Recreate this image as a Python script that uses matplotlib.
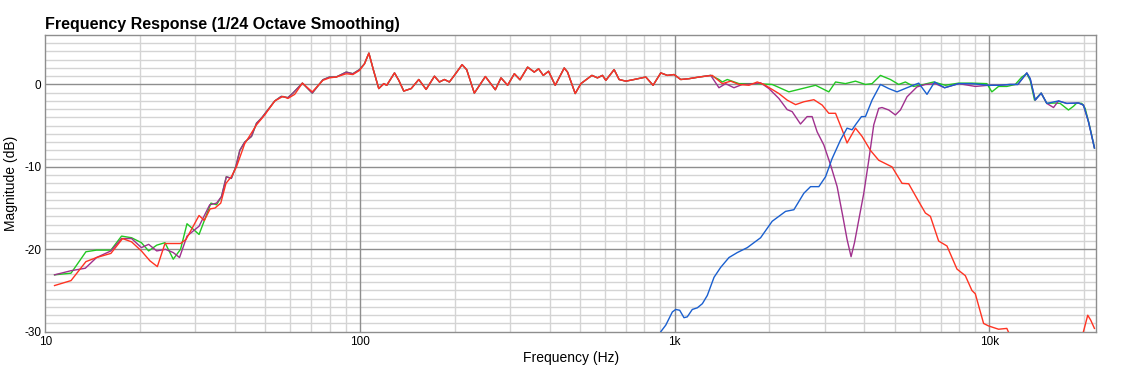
import matplotlib
matplotlib.use("Agg")
import matplotlib.pyplot as plt
from matplotlib.ticker import FixedLocator, NullFormatter, FixedFormatter

plt.rcParams['font.family'] = ['Liberation Sans', 'DejaVu Sans']

# ---------------- data (Hz, dB) ----------------
# low-frequency part of the green curve
green_lf_f = [10.7, 12.07, 13.46, 14.55, 16.16, 17.47, 18.8, 20.2, 21.3, 22.6, 24.0, 25.5,
              26.9, 28.2, 30.8, 33.6, 35.0, 36.3, 37.6, 39.0, 40.3, 41.5, 43.0, 45.2, 46.9,
              48.6, 53.6, 56.2, 59.0, 61.2, 65.6, 70.5, 76.2, 80.0, 84.0, 90.4, 94.9, 99.6]
green_lf_db = [-23.1, -22.9, -20.3, -20.1, -20.1, -18.4, -18.6, -19.2, -20.2, -19.5, -19.2, -21.2,
               -20.0, -16.9, -18.2, -14.4, -14.6, -13.6, -11.2, -11.4, -10.0, -8.0, -7.0, -6.3, -4.7,
               -4.1, -2.0, -1.45, -1.6, -1.05, 0.16, -1.05, 0.57, 0.9, 0.9, 1.5, 1.3, 1.8]

# low-frequency part of the purple curve (joins green above ~36 Hz)
purple_lf_f = [10.7, 12.07, 13.4, 14.55, 16.16, 17.47, 18.8, 20.2, 21.3, 22.6, 24.1, 25.5,
               26.7, 28.2, 30.8, 33.3, 35.0]
purple_lf_db = [-23.1, -22.6, -22.3, -21.0, -20.2, -18.7, -18.7, -19.8, -19.4, -20.2, -20.0, -20.4,
                -21.0, -18.4, -17.2, -14.6, -14.4]

# low-frequency part of the red curve
red_lf_f = [10.7, 12.07, 13.46, 14.55, 16.16, 17.6, 18.8, 20.2, 21.5, 22.7, 24.0, 26.9, 28.0,
            30.8, 32.0, 33.4, 34.6, 36.1, 37.5, 39.0, 40.5, 43.0, 46.9, 49.8, 53.6, 56.9, 59.0,
            62.0, 65.6, 70.5, 76.2, 80.0, 84.0, 90.4, 94.9, 99.6]
red_lf_db = [-24.4, -23.8, -21.5, -21.0, -20.5, -18.7, -19.1, -20.2, -21.4, -22.1, -19.3, -19.3, -18.8,
             -15.9, -16.5, -15.1, -15.0, -14.4, -12.0, -11.2, -10.0, -7.2, -4.9, -3.7, -2.0, -1.45, -1.7,
             -1.2, 0.16, -0.9, 0.5, 0.8, 0.9, 1.3, 1.2, 1.7]

# mid band shared by green, purple and red
mid_f = [103.3, 106.7, 110.4, 114.7, 119.0, 121.6, 128.7, 132.8, 137.7, 145.4, 153.7, 162.2,
         172.4, 178.8, 185.4, 192.3, 199.4, 211.0, 218.2, 230.8, 250.2, 269.1, 280.5, 294.4,
         309.3, 322.4, 340.8, 357.8, 369.3, 382.2, 397.2, 417.1, 445.5, 456.4, 482.8, 503.3,
         545.4, 568.1, 589.3, 604.1, 641.8, 665.7, 699.1, 742.8, 809.1, 853.5, 902.8, 947.4,
         994.9, 1044.7, 1110, 1194, 1301]
mid_db = [2.5, 3.8, 1.7, -0.5, 0.1, -0.1, 1.4, 0.5, -0.8, -0.5, 0.6, -0.6,
          1.0, 0.3, 0.6, 0.3, 1.1, 2.4, 1.8, -1.05, 0.96, -0.64, 0.8, -0.1,
          1.3, 0.57, 2.1, 1.5, 1.9, 1.1, 1.6, -0.1, 2.0, 1.5, -1.1, 0.1,
          1.1, 0.8, 1.1, 0.5, 1.8, 0.6, 0.4, 0.6, 0.9, -0.1, 1.4, 1.1,
          1.2, 0.6, 0.7, 0.9, 1.1]

# high-frequency parts
green_hf_f = [1382, 1416, 1469, 1600, 1807, 2040, 2305, 2540, 2802, 3087, 3243, 3487, 3752,
              4036, 4236, 4504, 4845, 5148, 5406, 5743, 6180, 6647, 7240, 7980, 8796, 9813,
              10176, 10688, 11355, 12077, 12671, 13142, 13472, 13904, 14601, 15213, 16175,
              16776, 17824, 18487, 18939, 19647, 20140, 20889, 21554]
green_hf_db = [0.6, 0.3, 0.6, 0.1, 0.1, 0.0, -0.9, -0.5, -0.1, -0.9, 0.3, 0.1, 0.4,
               0.0, 0.1, 1.1, 0.6, 0.0, 0.3, -0.24, 0.0, 0.3, -0.1, 0.16, 0.16, 0.1,
               -0.9, -0.24, -0.24, 0.0, 0.9, 1.3, 0.5, -1.9, -1.05, -2.3, -2.25,
               -2.3, -3.1, -2.65, -2.25, -2.3, -2.9, -5.3, -7.7]

purple_hf_f = [1382, 1451, 1542, 1639, 1807, 1874, 1992, 2142, 2276, 2361, 2509, 2634, 2732,
               2834, 2977, 3126, 3281, 3420, 3528, 3633, 3725, 3864, 3987, 4135, 4289, 4448,
               4556, 4786, 5025, 5212, 5470, 5884, 6257, 6730, 7202, 7980, 9016, 9934, 10688,
               11641, 12306, 13142, 13472, 13975, 14601, 15213, 15977, 16569, 17603, 19175,
               19892, 20627, 21554]
purple_hf_db = [-0.4, 0.1, -0.4, 0.0, 0.1, 0.2, -0.5, -1.7, -3.05, -3.3, -4.8, -3.9, -3.9,
                -5.75, -7.35, -9.75, -12.4, -16.0, -18.8, -20.9, -19.2, -16.0, -13.2, -9.2, -4.9, -2.9,
                -2.8, -3.1, -3.7, -3.1, -1.5, -0.3, 0.0, 0.1, -0.4, 0.1, -0.24, -0.1, -0.1,
                0.0, 0.0, 1.4, 0.7, -1.9, -1.05, -2.3, -2.8, -2.0, -2.3, -2.25,
                -2.5, -4.5, -7.7]

red_hf_f = [1316, 1416, 1506, 1600, 1721, 1829, 1920, 2017, 2142, 2276, 2421, 2572, 2767, 2940,
            3087, 3243, 3403, 3528, 3752, 3937, 4186, 4448, 4902, 5275, 5537, 5959, 6257, 6490,
            6895, 7327, 7883, 8380, 8796, 9016, 9579, 9934, 10688, 11355, 11665, 19700, 20523,
            20976, 21554]
red_hf_db = [1.1, 0.1, 0.4, 0.0, -0.1, 0.3, 0.0, -0.5, -1.1, -1.9, -2.45, -2.1, -1.85, -2.5,
             -3.5, -3.5, -5.5, -7.1, -5.3, -6.3, -8.0, -9.2, -10.0, -12.0, -12.05, -14.2, -15.6, -16.0,
             -19.0, -19.6, -22.4, -23.2, -25.0, -25.4, -29.0, -29.3, -29.7, -29.6, -30.6, -30.6, -28.0,
             -28.6, -29.6]

blue_f = [880, 902.8, 936.5, 982.7, 1007, 1037, 1070, 1096, 1137, 1180, 1224, 1269, 1333, 1399,
          1487, 1580, 1700, 1874, 2040, 2250, 2391, 2572, 2701, 2870, 3014, 3162, 3362, 3528,
          3660, 3752, 3920, 4036, 4236, 4504, 4786, 5085, 5470, 5959, 6331, 6695, 7202, 7980,
          8796, 9934, 10688, 11641, 12306, 13142, 13472, 13975, 14601, 15213, 16569, 17603,
          19175, 19892, 20627, 21554]
blue_db = [-31.0, -30.0, -29.2, -27.6, -27.3, -27.4, -28.3, -28.2, -27.3, -27.1, -26.6, -25.6, -23.4, -22.2,
           -21.0, -20.4, -19.8, -18.6, -16.6, -15.4, -15.2, -13.2, -12.4, -12.4, -11.2, -9.0, -6.75, -5.3,
           -5.5, -4.9, -3.9, -3.9, -1.9, 0.0, -0.5, -0.9, -0.4, 0.16, -1.2, 0.3, -0.4, 0.1,
           0.1, -0.1, -0.1, 0.0, 0.0, 1.4, 0.7, -1.9, -1.05, -2.3, -2.0, -2.3,
           -2.25, -2.5, -4.5, -7.7]

x_ticks = [10, 100, 1000, 10000]
x_tick_labels = ["10", "100", "1k", "10k"]
y_ticks = [0, -10, -20, -30]
y_tick_labels = ["0", "-10", "-20", "-30"]

# ---------------- assemble curves ----------------
green_f = green_lf_f + mid_f + green_hf_f
green_db = green_lf_db + mid_db + green_hf_db

purple_f = purple_lf_f + [f for f in green_lf_f if f > 36] + mid_f + purple_hf_f
purple_db = purple_lf_db + [d for f, d in zip(green_lf_f, green_lf_db) if f > 36] + mid_db + purple_hf_db

red_f = red_lf_f + mid_f[:-1] + red_hf_f
red_db = red_lf_db + mid_db[:-1] + red_hf_db

# ---------------- figure ----------------
W, H = 1129, 371
fig = plt.figure(figsize=(W / 100, H / 100), dpi=100)
ax = fig.add_axes([45.3 / W, 1 - 331.7 / H, (1096.3 - 45.3) / W, (331.7 - 35) / H])

ax.set_xscale('log')
ax.set_xlim(10, 21850)
ax.set_ylim(-30, 6)

# grid
minor_x = [m * 10 ** e for e in range(1, 5) for m in range(2, 10)]
for xv in minor_x:
    ax.axvline(xv, color='#d4d4d4', lw=1.0, zorder=0)
for yv in range(-29, 6):
    if yv % 10 != 0:
        ax.axhline(yv, color='#d4d4d4', lw=1.0, zorder=0)
for xv in x_ticks[1:]:
    ax.axvline(xv, color='#8e8e8e', lw=1.0, zorder=0.5)
for yv in y_ticks[:-1]:
    ax.axhline(yv, color='#8e8e8e', lw=1.0, zorder=0.5)

lw = 1.0
ax.plot(green_f, green_db, color='#22c822', lw=lw, zorder=2)
ax.plot(purple_f, purple_db, color='#a0308e', lw=lw, zorder=3)
ax.plot(red_f, red_db, color='#ff3322', lw=lw, zorder=4)
ax.plot(blue_f, blue_db, color='#1a5fcf', lw=lw, zorder=5)

ax.xaxis.set_major_locator(FixedLocator(x_ticks))
ax.xaxis.set_major_formatter(FixedFormatter(x_tick_labels))
ax.xaxis.set_minor_locator(FixedLocator([]))
ax.xaxis.set_minor_formatter(NullFormatter())
ax.yaxis.set_major_locator(FixedLocator(y_ticks))
ax.yaxis.set_major_formatter(FixedFormatter(y_tick_labels))
ax.tick_params(axis='both', length=0, labelsize=8.5, colors='black', pad=3)

for s in ax.spines.values():
    s.set_color('#8e8e8e')
    s.set_linewidth(1.0)

ax.set_xlabel("Frequency (Hz)", fontsize=10, labelpad=2)
ax.set_ylabel("Magnitude (dB)", fontsize=10, labelpad=4)
ax.set_title("Frequency Response (1/24 Octave Smoothing)", loc='left',
             fontsize=11.5, fontweight='bold', pad=4)

fig.savefig("out.png", dpi=100)
